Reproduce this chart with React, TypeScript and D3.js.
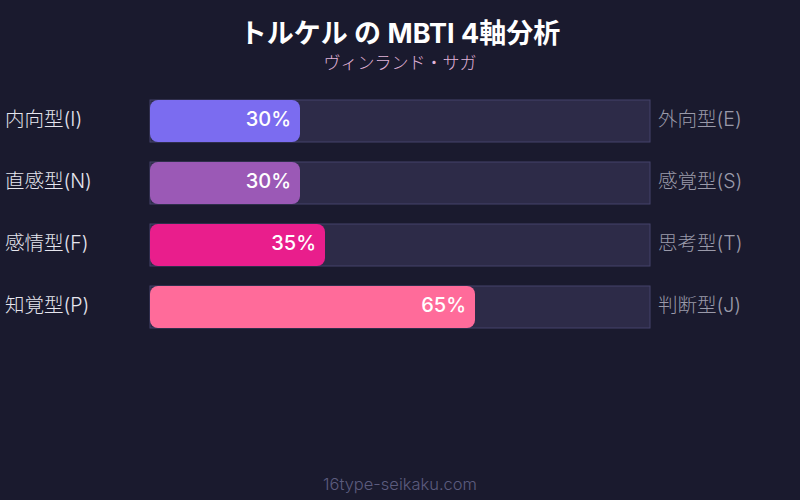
import React from "react";
import * as d3 from "d3";

const title = "トルケル の MBTI 4軸分析";
const subtitle = "ヴィンランド・サガ";
const footer = "16type-seikaku.com";
const leftLabels = ["内向型(I)", "直感型(N)", "感情型(F)", "知覚型(P)"];
const rightLabels = ["外向型(E)", "感覚型(S)", "思考型(T)", "判断型(J)"];
const values = [30, 30, 35, 65];
const colors = ["#7b6cf0", "#9b59b6", "#e91e8c", "#ff6b9a"];

const W = 800;
const H = 500;
const FONT = "Inter, 'Noto Sans CJK JP', sans-serif";

export default function App() {
  const x = d3.scaleLinear().domain([0, 100]).range([150, 650]);
  const bh = 42;
  return (
    <svg width={W} height={H} style={{ position: "absolute", left: 0, top: 0 }}>
      <rect x={0} y={0} width={W} height={H} fill="#1a1a2e" />
      <text x={W / 2} y={43} textAnchor="middle" fill="#ffffff" fontSize={27} fontWeight="bold" fontFamily={FONT}>{title}</text>
      <text x={W / 2} y={69} textAnchor="middle" fill="#e0b3d9" fontSize={17} fontWeight={300} fontFamily={FONT}>{subtitle}</text>
      {values.map((v, i) => {
        const yy = 100 + i * 62;
        return (
          <g key={i}>
            <rect x={x(0)} y={yy} width={x(100) - x(0)} height={bh} fill="#2d2b48" stroke="#45436a" strokeWidth={1} />
            <rect x={x(0)} y={yy} width={x(v) - x(0)} height={bh} rx={8} ry={8} fill={colors[i]} />
            <text x={x(v) - 9} y={yy + bh / 2 + 5} textAnchor="end" fill="#ffffff" fontSize={20} fontWeight={500} fontFamily={FONT}>{v}%</text>
            <text x={5} y={yy + bh / 2 + 5} fill="#e6e6ee" fontSize={19.5} fontWeight={300} fontFamily={FONT}>{leftLabels[i]}</text>
            <text x={658} y={yy + bh / 2 + 5} fill="#9a9aaa" fontSize={19.5} fontWeight={300} fontFamily={FONT}>{rightLabels[i]}</text>
          </g>
        );
      })}
      <text x={W / 2} y={490} textAnchor="middle" fill="#5c5c7e" fontSize={16.5} fontWeight={300} fontFamily={FONT}>{footer}</text>
    </svg>
  );
}
